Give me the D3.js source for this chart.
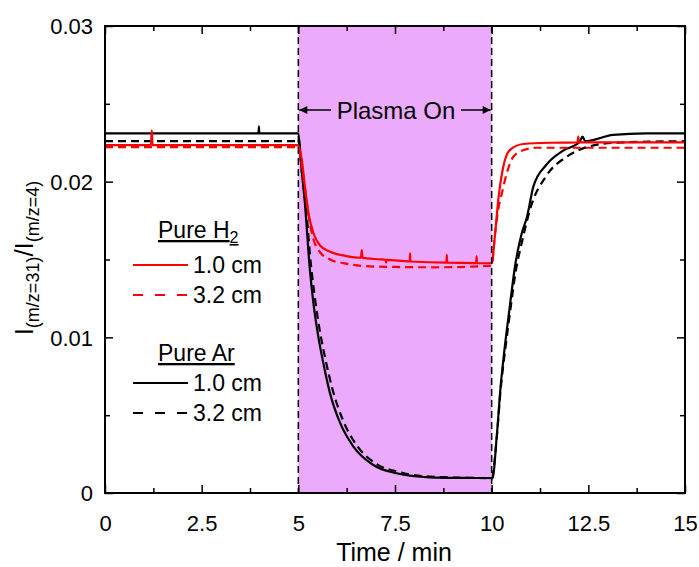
<!DOCTYPE html>
<html><head><meta charset="utf-8">
<script src="https://cdn.jsdelivr.net/npm/d3@7"></script>
<style>body{margin:0;background:#fff}svg{display:block}text{font-family:"Liberation Sans",Arial,sans-serif;fill:#000}</style>
</head><body>
<script>
// ---- data ----
const xTicks = [0, 2.5, 5, 7.5, 10, 12.5, 15];
const xTickLabels = ["0", "2.5", "5", "7.5", "10", "12.5", "15"];
const yTicks = [0, 0.01, 0.02, 0.03];
const yTickLabels = ["0", "0.01", "0.02", "0.03"];
const plasmaWindow = [5, 10];

const h2_10 = [[0,0.02235],[1.19,0.02235],[1.21,0.0233],[1.23,0.02235],[4.98,0.02235],[5.0,0.0223],[5.09,0.0214],[5.17,0.0197],[5.26,0.0180],[5.39,0.0167],[5.56,0.0159],[5.82,0.0155],[6.25,0.01522],[6.62,0.01512],[6.64,0.0156],[6.66,0.0151],[7.11,0.01501],[7.26,0.01498],[7.27,0.0148],[7.28,0.01497],[7.88,0.01488],[7.89,0.0154],[7.9,0.01487],[8.83,0.0148],[8.84,0.0153],[8.85,0.0148],[9.6,0.01477],[9.61,0.0152],[9.62,0.01476],[10.0,0.01476],[10.09,0.0167],[10.17,0.0188],[10.30,0.02096],[10.47,0.02203],[10.82,0.02242],[11.5,0.0225],[12.22,0.02252],[12.24,0.0229],[12.26,0.02252],[15,0.02252]];
const h2_32 = [[0,0.02222],[5.0,0.02222],[5.08,0.0212],[5.18,0.0194],[5.30,0.0173],[5.39,0.0163],[5.55,0.0155],[5.82,0.0150],[6.2,0.01475],[6.68,0.01458],[7.5,0.01452],[8.5,0.0145],[10.0,0.0146],[10.08,0.0165],[10.17,0.0182],[10.26,0.0192],[10.39,0.02054],[10.56,0.0216],[10.82,0.02203],[11.16,0.02218],[15,0.02218]];
const ar_10 = [[0,0.0231],[3.97,0.0231],[3.98,0.02355],[3.99,0.0231],[5.0,0.0231],[5.08,0.0209],[5.17,0.0186],[5.30,0.0143],[5.39,0.0122],[5.52,0.0100],[5.65,0.0083],[5.82,0.0064],[6.08,0.0045],[6.42,0.0030],[6.94,0.0018],[7.54,0.00127],[8.4,0.00101],[9.2,0.00097],[10.0,0.00096],[10.02,0.00094],[10.13,0.0036],[10.23,0.0068],[10.34,0.0094],[10.47,0.0120],[10.60,0.0145],[10.78,0.0167],[10.91,0.0177],[11.08,0.0197],[11.42,0.0211],[11.85,0.0220],[12.28,0.02257],[12.35,0.0229],[12.42,0.0226],[13.14,0.0230],[14,0.0231],[15,0.0231]];
const ar_32 = [[0,0.0226],[5.0,0.0226],[5.1,0.0205],[5.2,0.0183],[5.32,0.0148],[5.42,0.0127],[5.55,0.0105],[5.7,0.0086],[5.88,0.0067],[6.15,0.0047],[6.5,0.0031],[7.0,0.0019],[7.6,0.00135],[8.4,0.00105],[9.2,0.00098],[10.0,0.00096],[10.13,0.0035],[10.23,0.0066],[10.35,0.0092],[10.48,0.0117],[10.62,0.0142],[10.8,0.0163],[10.99,0.0182],[11.42,0.0204],[11.94,0.0216],[12.5,0.02225],[13.2,0.0225],[15,0.0226]];

const seriesList = [
  {name:"ar_32", data:ar_32, color:"#000", dash:"8,5"},
  {name:"ar_10", data:ar_10, color:"#000", dash:null},
  {name:"h2_32", data:h2_32, color:"#ff0000", dash:"8,5"},
  {name:"h2_10", data:h2_10, color:"#ff0000", dash:null}
];

// ---- layout ----
const W = 699, H = 567;
const L = 105, R = 685, T = 26, B = 493;
const svg = d3.select("body").append("svg").attr("width", W).attr("height", H);
const x = d3.scaleLinear().domain([0, 15]).range([L, R]);
const y = d3.scaleLinear().domain([0, 0.03]).range([B, T]);

// plasma shading
svg.append("rect").attr("x", x(plasmaWindow[0])).attr("y", T)
  .attr("width", x(plasmaWindow[1]) - x(plasmaWindow[0])).attr("height", B - T)
  .attr("fill", "#ebaafc");

// series
const line = d3.line().x(d => x(d[0])).y(d => y(d[1])).curve(d3.curveMonotoneX);
svg.selectAll("path.series").data(seriesList).enter().append("path")
  .attr("class", "series").attr("d", d => line(d.data))
  .attr("fill", "none").attr("stroke", d => d.color).attr("stroke-width", 2.2)
  .attr("stroke-dasharray", d => d.dash).attr("stroke-linejoin", "round");

// dashed vertical lines
svg.selectAll("line.vl").data(plasmaWindow).enter().append("line")
  .attr("x1", d => x(d)).attr("x2", d => x(d)).attr("y1", T).attr("y2", B)
  .attr("stroke", "#000").attr("stroke-width", 1.5).attr("stroke-dasharray", "7,4");

// axes (ticks inward)
const xMinor = d3.range(0, 15.01, 1.25).filter(v => !xTicks.includes(v));
const yMinor = d3.range(0, 0.0301, 0.005).map(v => +v.toFixed(3)).filter(v => !yTicks.includes(v));
function xAx(gen, yPos, labels) {
  const g = svg.append("g").attr("transform", `translate(0,${yPos})`);
  g.call(gen(x).tickValues(xTicks).tickSize(8).tickFormat((d, i) => labels ? xTickLabels[i] : ""));
  const gm = svg.append("g").attr("transform", `translate(0,${yPos})`);
  gm.call(gen(x).tickValues(xMinor).tickSize(5).tickFormat(""));
  [g, gm].forEach(s => { s.select(".domain").remove(); s.selectAll("line").attr("stroke-width", 1.5); });
  return g;
}
function yAx(gen, xPos, labels) {
  const g = svg.append("g").attr("transform", `translate(${xPos},0)`);
  g.call(gen(y).tickValues(yTicks).tickSize(8).tickFormat((d, i) => labels ? yTickLabels[i] : ""));
  const gm = svg.append("g").attr("transform", `translate(${xPos},0)`);
  gm.call(gen(y).tickValues(yMinor).tickSize(5).tickFormat(""));
  [g, gm].forEach(s => { s.select(".domain").remove(); s.selectAll("line").attr("stroke-width", 1.5); });
  return g;
}
const gb = xAx(d3.axisTop, B, true);
gb.selectAll("text").attr("y", 22).attr("dy", "0.71em").attr("font-size", 22).attr("fill", "#000");
xAx(d3.axisBottom, T, false);
const gl = yAx(d3.axisRight, L, true);
gl.selectAll("text").attr("x", -12).attr("text-anchor", "end").attr("font-size", 22).attr("dy", "0.35em").attr("fill", "#000");
yAx(d3.axisLeft, R, false);

svg.append("rect").attr("x", L).attr("y", T).attr("width", R - L).attr("height", B - T)
  .attr("fill", "none").attr("stroke", "#000").attr("stroke-width", 2);

// axis titles
svg.append("text").attr("x", 394).attr("y", 561).attr("text-anchor", "middle").attr("font-size", 25).text("Time / min");
const yt = svg.append("text").attr("transform", "translate(33,258) rotate(-90)").attr("text-anchor", "middle").attr("font-size", 26);
yt.append("tspan").text("I");
yt.append("tspan").attr("font-size", 18).attr("dy", 6).text("(m/z=31)");
yt.append("tspan").attr("dy", -6).text("/I");
yt.append("tspan").attr("font-size", 18).attr("dy", 6).text("(m/z=4)");

// Plasma On annotation
svg.append("defs").append("marker").attr("id", "ah").attr("viewBox", "0 0 10 10")
  .attr("refX", 10).attr("refY", 5).attr("markerWidth", 10).attr("markerHeight", 8)
  .attr("markerUnits", "userSpaceOnUse").attr("orient", "auto")
  .append("path").attr("d", "M0,0L10,5L0,10z").attr("fill", "#000");
const ay = 110;
svg.append("line").attr("x1", 331).attr("x2", x(plasmaWindow[0]) + 1).attr("y1", ay).attr("y2", ay)
  .attr("stroke", "#000").attr("stroke-width", 1.5).attr("marker-end", "url(#ah)");
svg.append("line").attr("x1", 461).attr("x2", x(plasmaWindow[1]) - 1).attr("y1", ay).attr("y2", ay)
  .attr("stroke", "#000").attr("stroke-width", 1.5).attr("marker-end", "url(#ah)");
svg.append("text").attr("x", 396).attr("y", ay).attr("dy", "0.36em").attr("text-anchor", "middle").attr("font-size", 24).text("Plasma On");

// legend
const legendGroups = [
  {title: ["Pure H", "2"], ty: 238, items: [{s: seriesList[3], y: 265, label: "1.0 cm"}, {s: seriesList[2], y: 295, label: "3.2 cm"}]},
  {title: ["Pure Ar", null], ty: 361, items: [{s: seriesList[1], y: 383, label: "1.0 cm"}, {s: seriesList[0], y: 413, label: "3.2 cm"}]}
];
legendGroups.forEach(gr => {
  const t = svg.append("text").attr("x", 158).attr("y", gr.ty).attr("font-size", 23).attr("text-decoration", "underline");
  t.append("tspan").text(gr.title[0]);
  if (gr.title[1]) t.append("tspan").attr("font-size", 16).attr("dy", 5).text(gr.title[1]);
  gr.items.forEach(it => {
    svg.append("line").attr("x1", 133).attr("x2", 188).attr("y1", it.y).attr("y2", it.y)
      .attr("stroke", it.s.color).attr("stroke-width", 2).attr("stroke-dasharray", it.s.dash ? "10,12" : null);
    svg.append("text").attr("x", 193).attr("y", it.y).attr("dy", "0.36em").attr("font-size", 23).text(it.label);
  });
});
</script>
</body></html>
